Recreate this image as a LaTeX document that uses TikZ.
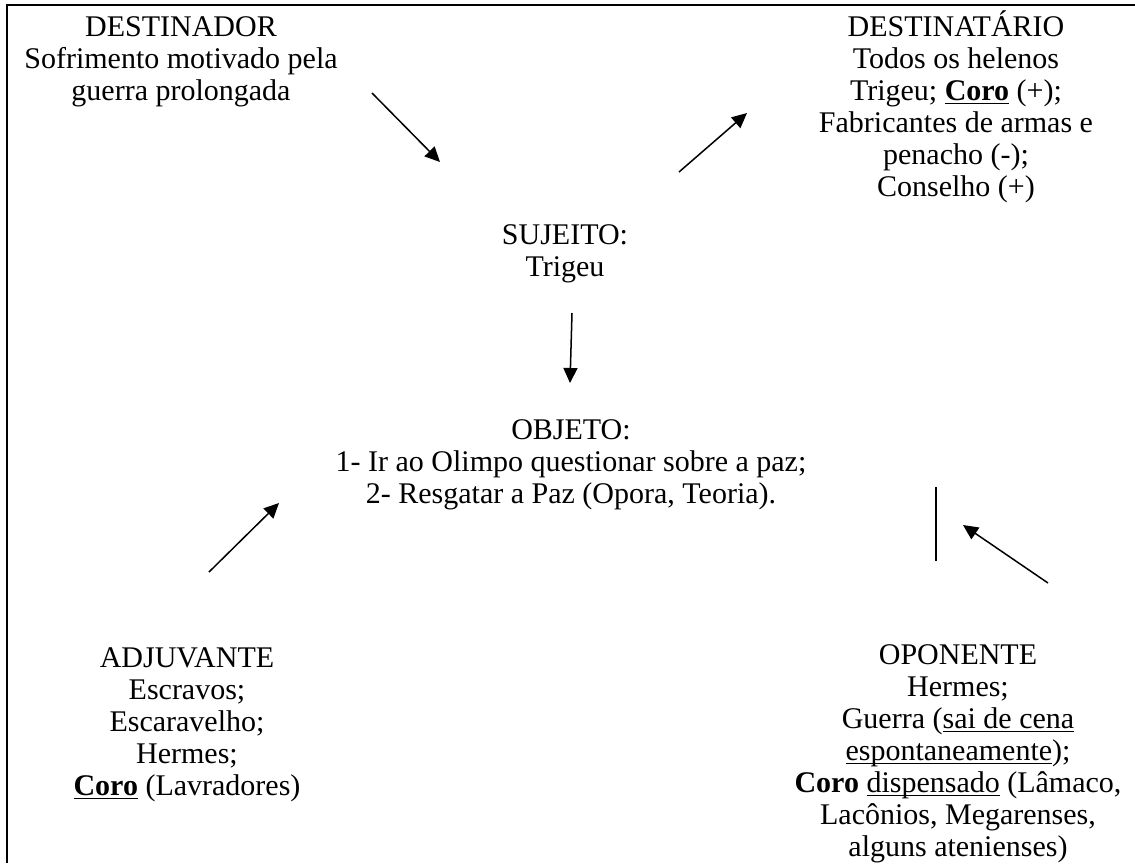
\documentclass[tikz,border=0pt]{standalone}
\usepackage{fontspec}
\setmainfont{Liberation Serif}
\usetikzlibrary{arrows.meta}

% underline close to the baseline
\newcommand{\sublinha}[1]{\underline{\raisebox{0pt}[\height][0pt]{#1}}}

\tikzset{
  actant/.style={align=center, inner sep=0pt, font=\fontsize{15}{16}\selectfont},
  seta/.style={line width=0.75pt, -{Triangle[length=7.5pt,width=7pt]}},
}

\begin{document}
\begin{tikzpicture}[x=0.5pt,y=-0.5pt]
  \useasboundingbox (0,0) rectangle (1135,863);
  % Frame
  \draw[line width=1pt] (7,863) -- (7,5) -- (1135,5);
  % Actants
  \node[actant] (destinador) at (181,62) {DESTINADOR\\Sofrimento motivado pela\\guerra prolongada};
  \node[actant] (destinatario) at (956,107) {DESTINATÁRIO\\Todos os helenos\\Trigeu; \sublinha{\textbf{Coro}} (+);\\Fabricantes de armas e\\penacho (-);\\Conselho (+)};
  \node[actant] (sujeito) at (565,254) {SUJEITO:\\Trigeu};
  \node[actant] (objeto) at (571,465) {OBJETO:\\1- Ir ao Olimpo questionar sobre a paz;\\2- Resgatar a Paz (Opora, Teoria).};
  \node[actant] (adjuvante) at (187,725) {ADJUVANTE\\Escravos;\\Escaravelho;\\Hermes;\\\sublinha{\textbf{Coro}} (Lavradores)};
  \node[actant] (oponente) at (958,754) {OPONENTE\\Hermes;\\Guerra (\sublinha{sai de cena}\\\sublinha{espontaneamente});\\\textbf{Coro} \sublinha{dispensado} (Lâmaco,\\Lacônios, Megarenses,\\alguns atenienses)};
  % Arrows
  \coordinate (dr1) at (372,93);   \coordinate (dr2) at (440,162);
  \coordinate (dt1) at (679,172);  \coordinate (dt2) at (747,113);
  \coordinate (sj1) at (572,313);  \coordinate (sj2) at (570,383);
  \coordinate (ad1) at (209,572);  \coordinate (ad2) at (279,503);
  \coordinate (op1) at (1048,583); \coordinate (op2) at (963,525);
  \coordinate (bar1) at (936,487); \coordinate (bar2) at (936,561);
  \draw[seta] (dr1) -- (dr2);
  \draw[seta] (dt1) -- (dt2);
  \draw[seta] (sj1) -- (sj2);
  \draw[seta] (ad1) -- (ad2);
  \draw[seta] (op1) -- (op2);
  \draw[line width=0.75pt] (bar1) -- (bar2);
\end{tikzpicture}
\end{document}
